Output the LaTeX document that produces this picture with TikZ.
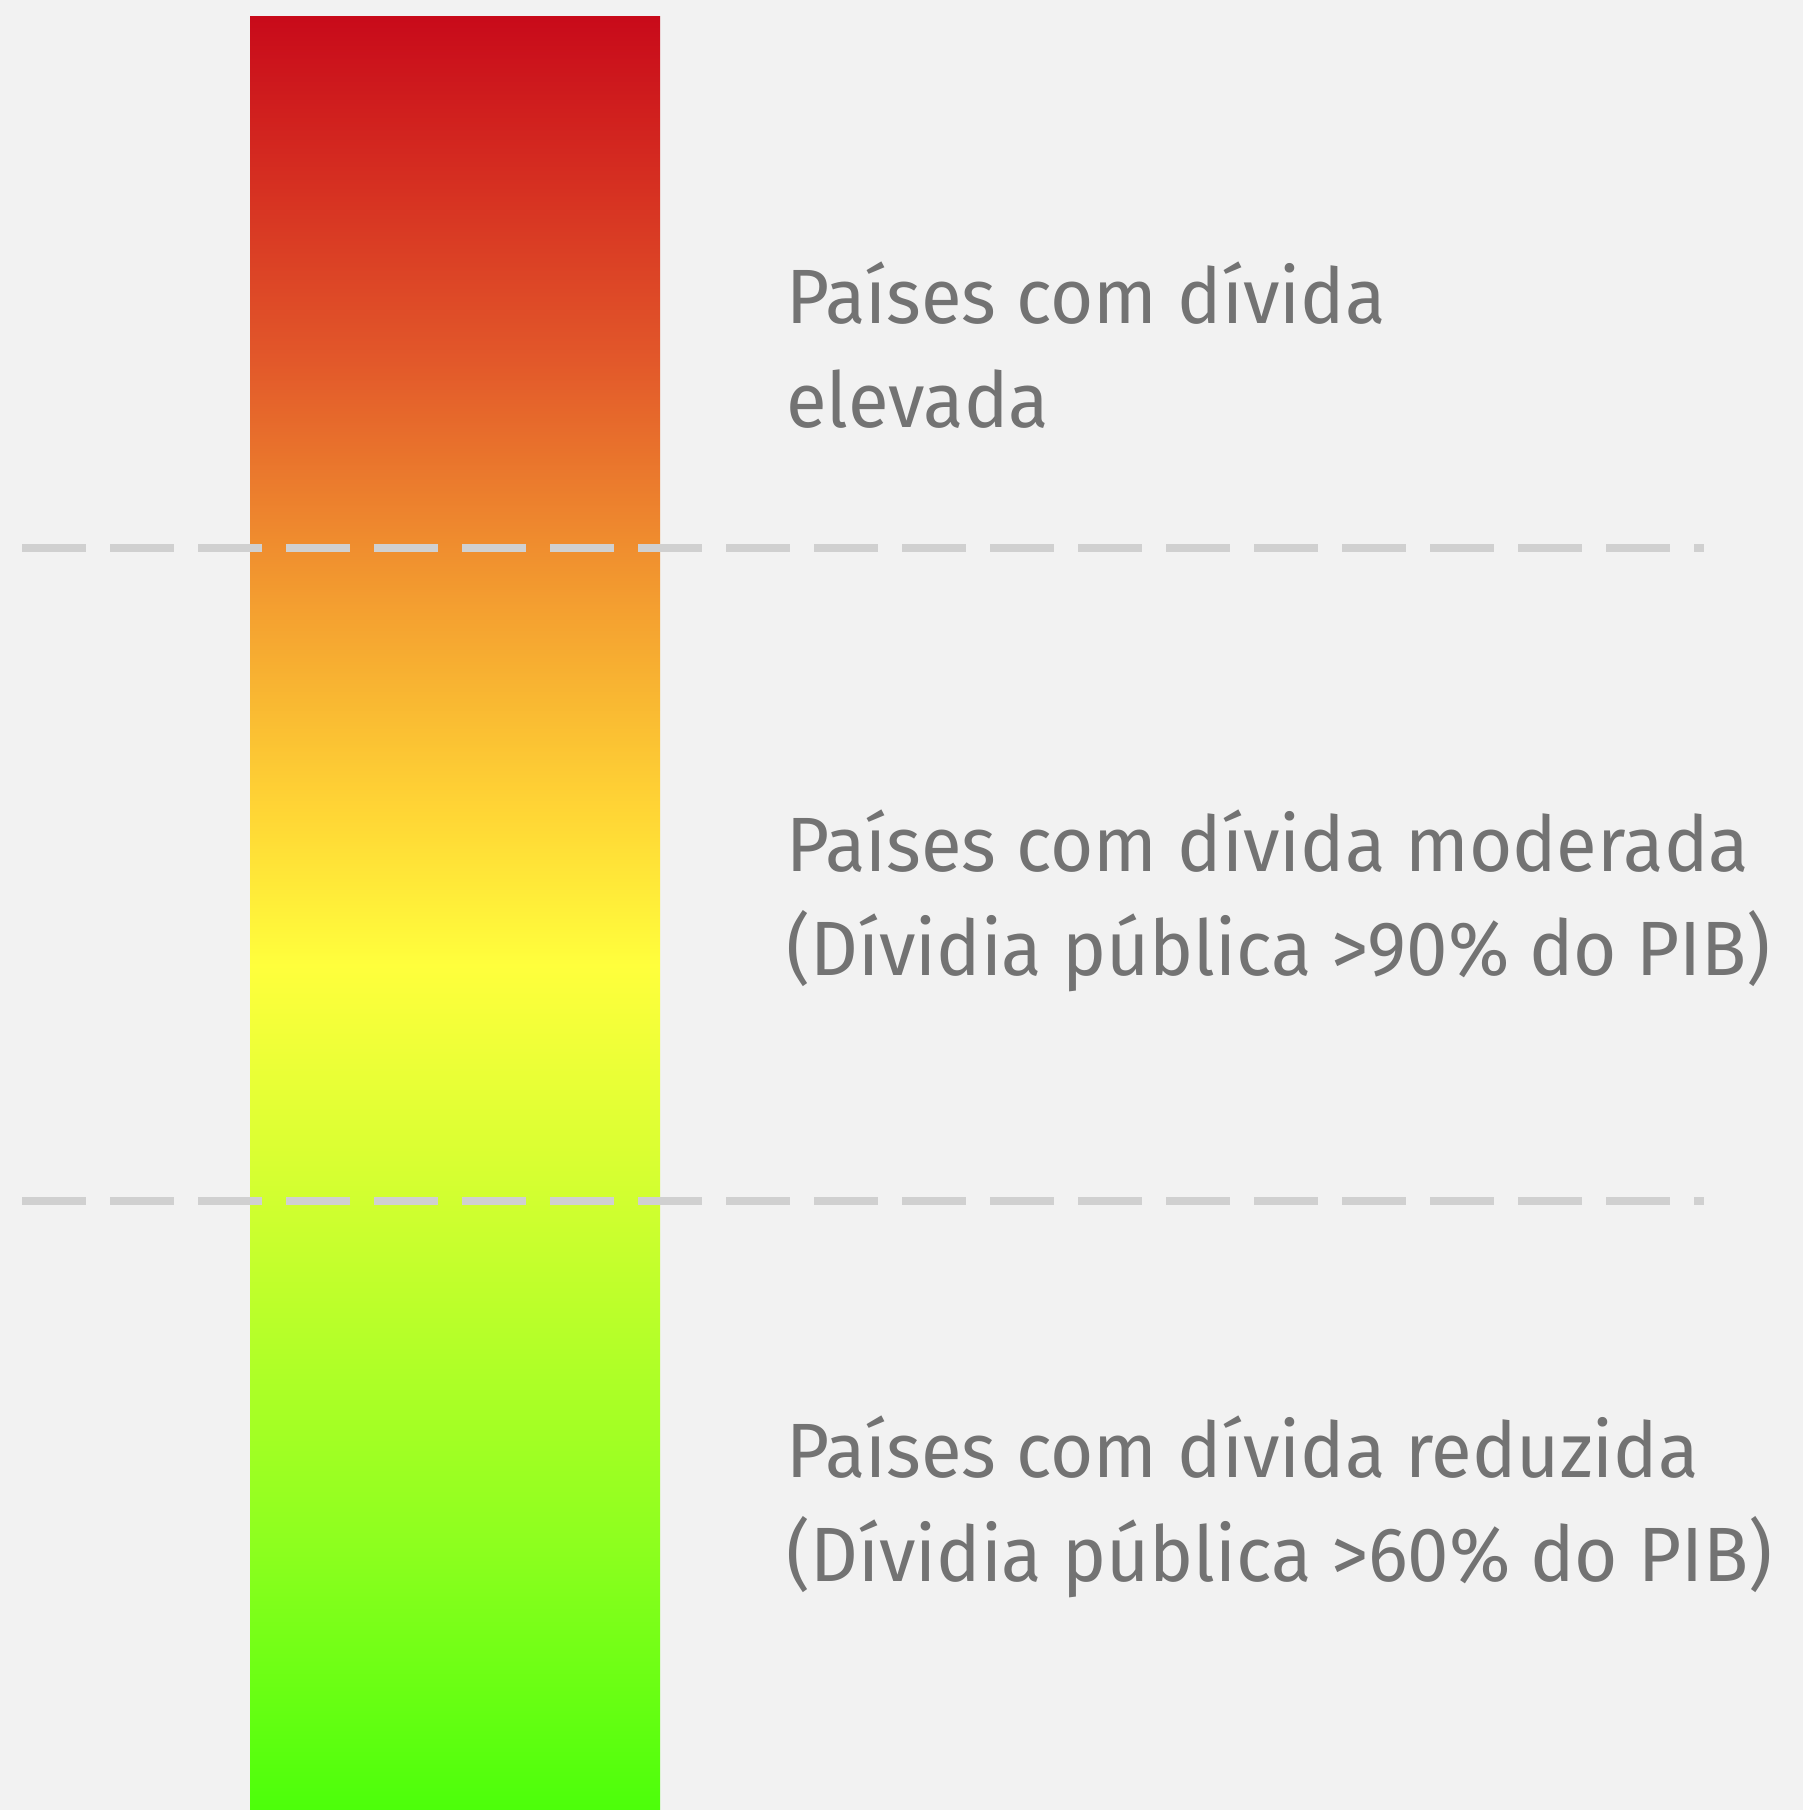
\documentclass[tikz,border=0pt]{standalone}
\usepackage{fontspec}
\setmainfont{Fira Sans}[FakeStretch=0.965]
\definecolor{bgc}{HTML}{F2F2F2}
\definecolor{txtc}{HTML}{737373}
\definecolor{dashc}{HTML}{D0D0D0}
\definecolor{c0}{HTML}{4CFF0A}
\definecolor{c1}{HTML}{8CFF1E}
\definecolor{c2}{HTML}{BBFF2A}
\definecolor{c3}{HTML}{FFFF3C}
\definecolor{c4}{HTML}{FFD535}
\definecolor{c5}{HTML}{F4A030}
\definecolor{c6}{HTML}{E2582A}
\definecolor{c7}{HTML}{D42A20}
\definecolor{c8}{HTML}{C80A1A}
\pgfdeclareverticalshading{debtbar}{100bp}{%
  color(0bp)=(c0); color(25bp)=(c0); color(32.25bp)=(c1); color(38.94bp)=(c2);
  color(48.55bp)=(c3); color(52.87bp)=(c4); color(58.44bp)=(c5);
  color(65.41bp)=(c6); color(70.99bp)=(c7); color(75bp)=(c8); color(100bp)=(c8)}
\tikzset{
  label/.style={anchor=base west, inner sep=0pt, text=txtc, align=left,
    font=\fontsize{77}{104}\selectfont},
  sep/.style={draw=dashc, line width=8pt, dash pattern=on 64pt off 24pt}
}
\begin{document}
\begin{tikzpicture}[x=1pt,y=-1pt]
\fill[bgc] (0,0) rectangle (1803,1810);
\useasboundingbox (0,0) rectangle (1803,1810);
\fill[shading=debtbar] (250,16) rectangle (660,1810);
\coordinate (d1a) at (22,548);
\coordinate (d1b) at (1704,548);
\coordinate (d2a) at (22,1201);
\coordinate (d2b) at (1704,1201);
\draw[sep] (d1a) -- (d1b);
\draw[sep] (d2a) -- (d2b);
\node[label] (high) at (786,427) {Países com dívida\\elevada};
\node[label] (mid) at (786,975) {Países com dívida moderada\\(Dívidia pública >90\% do PIB)};
\node[label] (low) at (786,1581) {Países com dívida reduzida\\(Dívidia pública >60\% do PIB)};
\end{tikzpicture}
\end{document}
